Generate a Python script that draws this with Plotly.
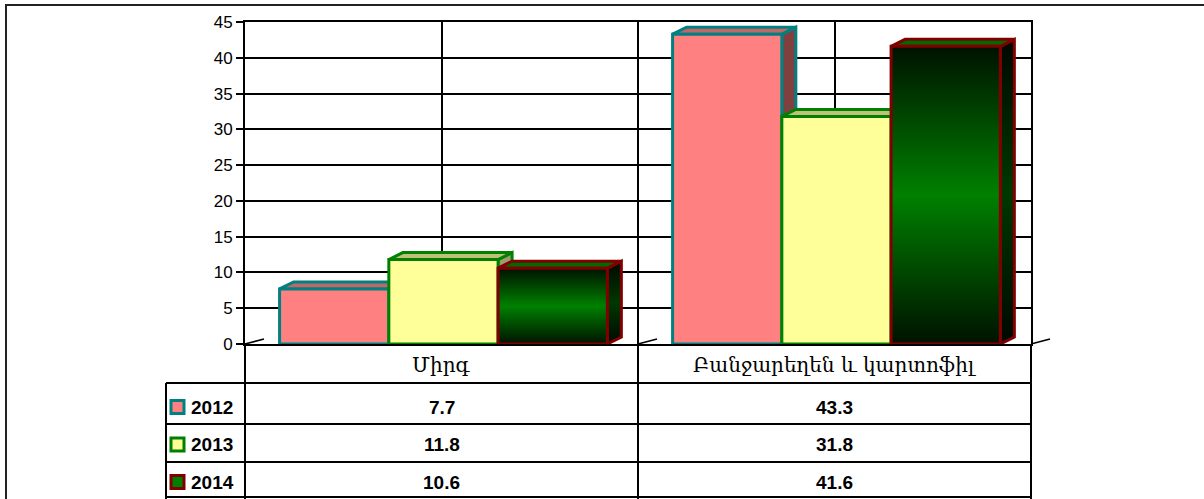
import plotly.graph_objects as go

# ---------------- data ----------------
categories = ["Միրգ", "Բանջարեղեն և կարտոֆիլ"]
years = ["2012", "2013", "2014"]
v2012 = [7.7, 43.3]
v2013 = [11.8, 31.8]
v2014 = [10.6, 41.6]
y_ticks = [0, 5, 10, 15, 20, 25, 30, 35, 40, 45]

series_values = [v2012, v2013, v2014]

# ---------------- style ----------------
W, H = 1204, 499
PL, PR, PT, PB = 245, 1031, 22, 344          # plot area in pixels
Y_MAX = 45
BAR_W = 0.278                                 # bar width in category units
SHIFT = 0.005
DX = 14 / (PR - PL) * 2                       # depth offset (category units)
DY = 7 * Y_MAX / (PB - PT)                    # depth offset (value units)

styles = [
    dict(front="#FF8080", top="#C06868", side="#804040", edge="#008080", grad=None, sgrad=None),
    dict(front="#FFFF99", top="#C0C078", side="#9C9C6C", edge="#008000", grad=None, sgrad=None),
    dict(front=None, top="#006A00", side=None, edge="#800000",
         grad=[[0, "#001200"], [0.5, "#008000"], [1, "#001200"]],
         sgrad=[[0, "#000800"], [0.5, "#003800"], [1, "#000800"]]),
]
key_fill = ["#FF8080", "#FFFF99", "#008000"]


def fx(px):
    return (px - PL) / (PR - PL)


def fy(py):
    return (PB - py) / (PB - PT)


fig = go.Figure()


def poly(xs, ys, fill=None, grad=None, edge="#000", width=3):
    kw = dict(x=xs, y=ys, mode="lines", fill="toself",
              line=dict(color=edge, width=width),
              hoverinfo="skip", showlegend=False)
    if grad is not None:
        kw["fillgradient"] = dict(type="vertical", colorscale=grad)
    else:
        kw["fillcolor"] = fill
    fig.add_trace(go.Scatter(**kw))


for si, vals in enumerate(series_values):
    st = styles[si]
    for ci, v in enumerate(vals):
        xl = ci + SHIFT + (si - 1.5) * BAR_W
        xr = xl + BAR_W
        # side face
        poly([xr, xr + DX, xr + DX, xr, xr], [0, DY, v + DY, v, 0],
             fill=st["side"], grad=st["sgrad"], edge=st["edge"])
        # top face
        poly([xl, xr, xr + DX, xl + DX, xl], [v, v, v + DY, v + DY, v],
             fill=st["top"], edge=st["edge"])
        # front face
        poly([xl, xr, xr, xl, xl], [0, 0, v, v, 0],
             fill=st["front"], grad=st["grad"], edge=st["edge"])

shapes = []
# outer frame
shapes.append(dict(type="rect", xref="paper", yref="paper",
                   x0=fx(6), x1=fx(1215), y0=fy(5), y1=fy(520),
                   line=dict(color="#222", width=2), layer="below"))
# data-table grid
for py in [383, 424, 462, 497]:
    shapes.append(dict(type="line", xref="paper", yref="paper",
                       x0=fx(166), x1=fx(PR), y0=fy(py), y1=fy(py),
                       line=dict(color="black", width=2)))
shapes.append(dict(type="line", xref="paper", yref="paper",
                   x0=fx(166), x1=fx(166), y0=fy(383), y1=fy(505),
                   line=dict(color="black", width=2)))
for px in [PL, (PL + PR) / 2, PR]:
    shapes.append(dict(type="line", xref="paper", yref="paper",
                       x0=fx(px), x1=fx(px), y0=fy(PB), y1=fy(505),
                       line=dict(color="black", width=2)))
# floor depth marks
for px in [PL, (PL + PR) / 2, PR]:
    shapes.append(dict(type="line", xref="paper", yref="paper",
                       x0=fx(px), x1=fx(px + 19), y0=fy(PB), y1=fy(PB - 5),
                       line=dict(color="black", width=1.5)))
# legend keys in table
key_rows = [407, 444.5, 482]
for si in range(3):
    cy = key_rows[si]
    shapes.append(dict(type="rect", xref="paper", yref="paper",
                       x0=fx(171), x1=fx(184), y0=fy(cy - 6.5), y1=fy(cy + 6.5),
                       fillcolor=key_fill[si],
                       line=dict(color=styles[si]["edge"], width=3)))

annotations = []
for ci, cat in enumerate(categories):
    annotations.append(dict(x=ci, y=fy(365), xref="x", yref="paper",
                            text=cat, showarrow=False, xanchor="center", yanchor="middle",
                            font=dict(family="DejaVu Serif", size=20, color="black")))
for si, vals in enumerate(series_values):
    cy = key_rows[si]
    annotations.append(dict(x=fx(189), y=fy(cy), xref="paper", yref="paper",
                            text=f"<b>{years[si]}</b>", showarrow=False,
                            xanchor="left", yanchor="middle",
                            font=dict(family="Liberation Sans", size=19, color="black")))
    for ci, v in enumerate(vals):
        annotations.append(dict(x=ci, y=fy(cy), xref="x", yref="paper",
                                text=f"<b>{v:.1f}</b>", showarrow=False,
                                xanchor="center", yanchor="middle",
                                font=dict(family="Liberation Sans", size=19, color="black")))

fig.update_layout(
    width=W, height=H,
    margin=dict(l=PL, r=W - PR, t=PT, b=H - PB, pad=0),
    paper_bgcolor="white", plot_bgcolor="white",
    showlegend=False,
    shapes=shapes, annotations=annotations,
    xaxis=dict(range=[-0.5, 1.5], tickvals=[-0.5, 0, 0.5, 1, 1.5],
               showticklabels=False, ticks="", showgrid=True,
               gridcolor="black", gridwidth=2, zeroline=False,
               showline=True, mirror=True, linecolor="black", linewidth=2,
               fixedrange=True),
    yaxis=dict(range=[0, Y_MAX], tickvals=y_ticks, ticktext=[str(t) for t in y_ticks],
               ticks="outside", ticklen=7, tickwidth=1.5, tickcolor="black",
               showgrid=True, gridcolor="black", gridwidth=2,
               zeroline=True, zerolinecolor="black", zerolinewidth=2,
               showline=True, mirror=True, linecolor="black", linewidth=2,
               tickfont=dict(family="Liberation Sans", size=17, color="black"),
               fixedrange=True),
)

fig.write_html(
    "out.html",
    config={"displayModeBar": False},
    post_script="document.body.style.margin='0';document.body.style.overflow='hidden';",
)
